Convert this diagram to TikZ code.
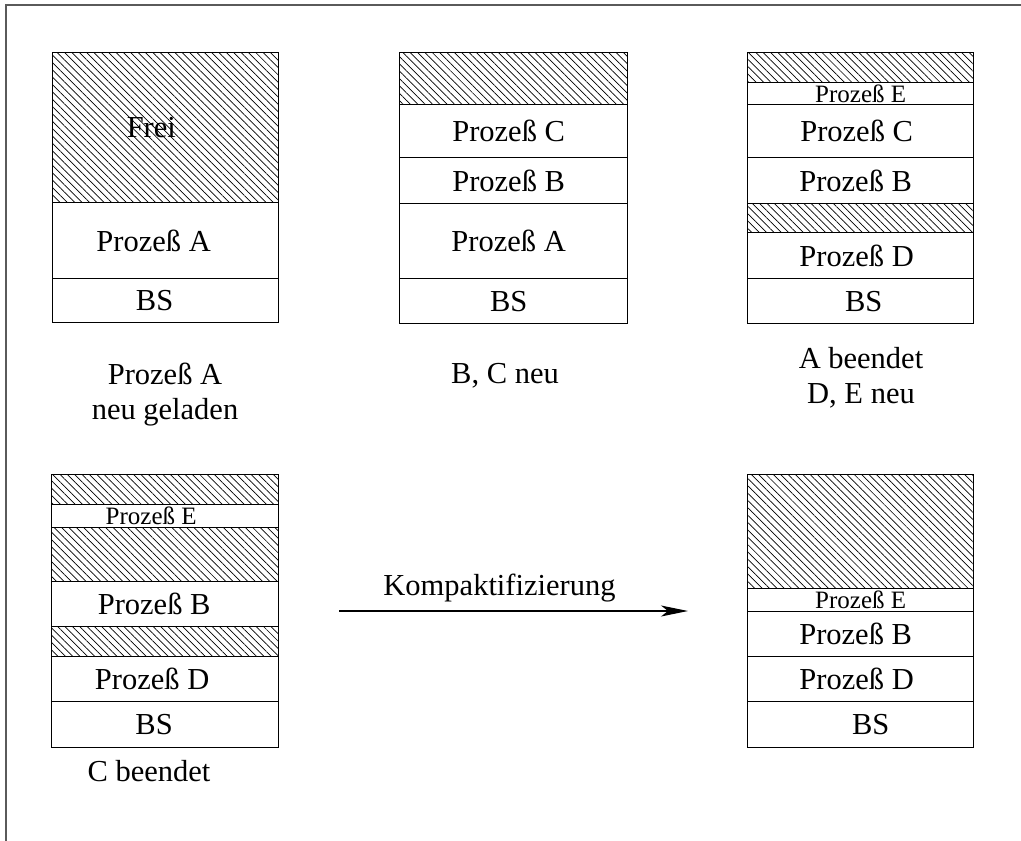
\documentclass[tikz,border=0pt]{standalone}
\usepackage{fontspec}
\setmainfont{Liberation Serif}
\usetikzlibrary{patterns.meta,arrows.meta}
\definecolor{framegray}{HTML}{5A5A5A}
% #1 name, #2 left x, #3 right x, #4 top y, #5 bottom y, #6 style, #7 kern (twice the text shift), #8 text
\newcommand\segbox[8]{%
  \node[seg,#6,minimum width={#3-#2},minimum height={#5-#4},anchor=north west] (#1) at (#2,#4) {\makebox[0pt]{\kern#7pt\relax #8}};}
\begin{document}
\begin{tikzpicture}[x=1pt,y=-1pt,
  seg/.style={draw, line width=1.3pt, inner sep=0pt, rectangle, font=\fontsize{30.5}{34}\selectfont},
  free/.style={pattern={Lines[angle=-45,distance=5.2pt,line width=0.7pt]}},
  small/.style={font=\fontsize{25}{27}\selectfont},
  caption/.style={font=\fontsize{30.5}{35}\selectfont, align=center, inner sep=0pt}]
\useasboundingbox (0,0) rectangle (1021,841);
% partial frame
\draw[line width=2pt, framegray] (1021,5) -- (6,5) -- (6,841);

% Block 1
\segbox{h1}{52}{278}{52}{202}{free}{-28}{Frei}
\segbox{a1}{52}{278}{202}{278}{}{-24}{Prozeß A}
\segbox{bs1}{52}{278}{278}{322}{}{-22}{BS}

% Block 2
\segbox{h2}{399}{627}{52}{104}{free}{0}{}
\segbox{c2}{399}{627}{104}{157}{}{-10}{Prozeß C}
\segbox{b2}{399}{627}{157}{203}{}{-10}{Prozeß B}
\segbox{a2}{399}{627}{203}{278}{}{-10}{Prozeß A}
\segbox{bs2}{399}{627}{278}{323}{}{-10}{BS}

% Block 3
\segbox{h3a}{747}{973}{52}{82}{free}{0}{}
\segbox{e3}{747}{973}{82}{104}{small}{0}{Prozeß E}
\segbox{c3}{747}{973}{104}{157}{}{-8}{Prozeß C}
\segbox{b3}{747}{973}{157}{203}{}{-10}{Prozeß B}
\segbox{h3b}{747}{973}{203}{232}{free}{0}{}
\segbox{d3}{747}{973}{232}{278}{}{-8}{Prozeß D}
\segbox{bs3}{747}{973}{278}{323}{}{6}{BS}

% Block 4
\segbox{h4a}{51}{278}{474}{504}{free}{0}{}
\segbox{e4}{51}{278}{504}{527}{small}{-28}{Prozeß E}
\segbox{h4b}{51}{278}{527}{581}{free}{0}{}
\segbox{b4}{51}{278}{581}{626}{}{-22}{Prozeß B}
\segbox{h4c}{51}{278}{626}{656}{free}{0}{}
\segbox{d4}{51}{278}{656}{701}{}{-26}{Prozeß D}
\segbox{bs4}{51}{278}{701}{747}{}{-22}{BS}

% Block 5
\segbox{h5}{747}{973}{474}{588}{free}{0}{}
\segbox{e5}{747}{973}{588}{611}{small}{0}{Prozeß E}
\segbox{b5}{747}{973}{611}{656}{}{-10}{Prozeß B}
\segbox{d5}{747}{973}{656}{701}{}{-8}{Prozeß D}
\segbox{bs5}{747}{973}{701}{747}{}{20}{BS}

% captions
\node[caption, anchor=north] (cap1) at (165,363) {Prozeß A\\neu geladen};
\node[caption, anchor=base] (cap2) at (505,383) {B, C neu};
\node[caption, anchor=north] (cap3) at (861,347) {A beendet\\D, E neu};
\node[caption, anchor=base] (cap4) at (149,781) {C beendet};

% arrow
\coordinate (arrS) at (339,611);
\coordinate (arrE) at (688,611);
\draw[line width=1.3pt, -{Stealth[length=27pt,width=11pt,inset=7pt]}] (arrS) -- node[pos=0.5, anchor=base, yshift=16pt, xshift=-14pt, font=\fontsize{30.5}{34}\selectfont, inner sep=0pt] (kompakt) {Kompaktifizierung} (arrE);
\end{tikzpicture}
\end{document}
